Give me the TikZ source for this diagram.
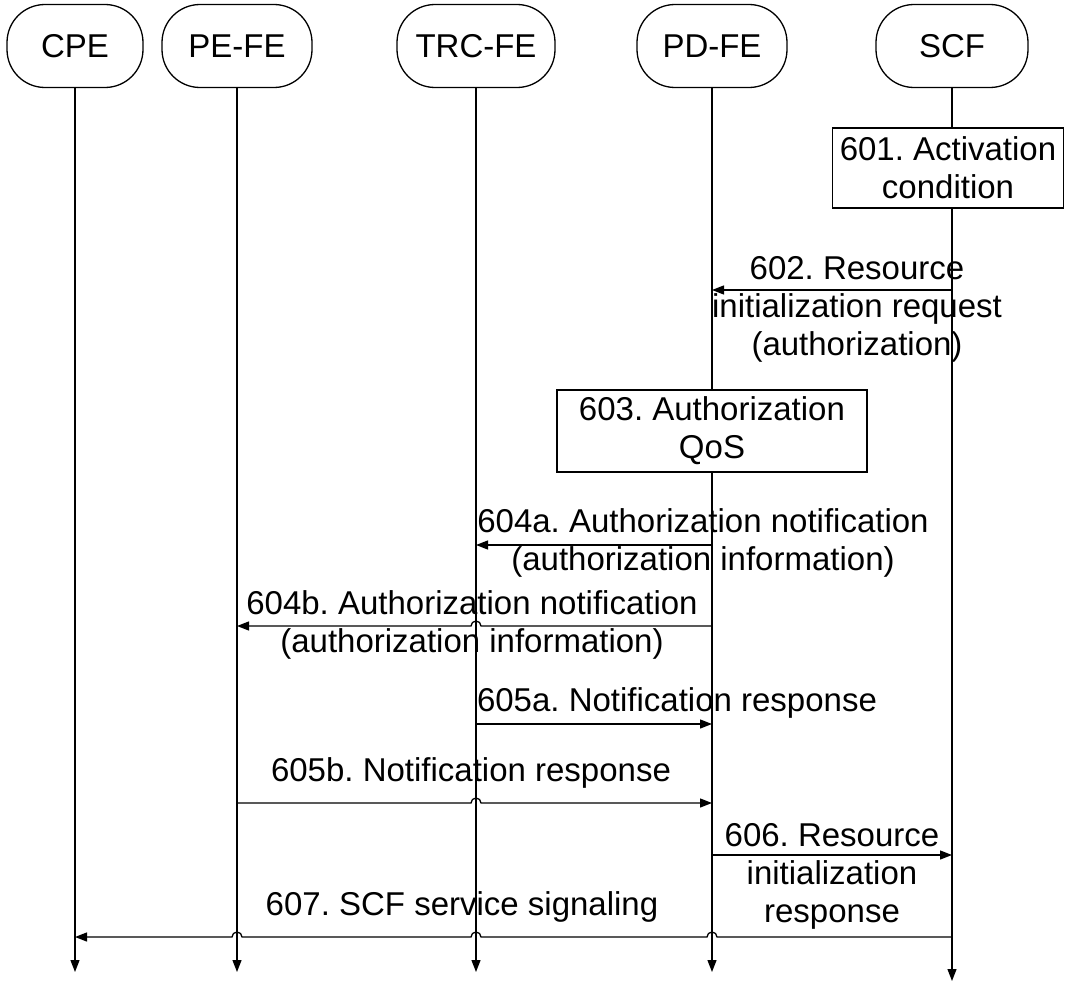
\documentclass[tikz,border=0pt]{standalone}
\usepackage{fontspec}
\setmainfont{Liberation Sans}
\usetikzlibrary{arrows.meta}
\usetikzlibrary{calc}
\frenchspacing

\begin{document}
\begin{tikzpicture}[x=1pt, y=-1pt,
    every node/.style={font=\fontsize{33}{38}\selectfont},
    head/.style={draw, line width=1.3pt, rounded corners=38pt, minimum width=150pt, minimum height=83pt},
    action/.style={draw, line width=1.3pt, fill=white, align=center, inner sep=0pt},
    msg/.style={-{Triangle[length=12pt, width=9pt]}, line width=1.3pt},
    lbl/.style={align=center, inner sep=0pt},
]
\useasboundingbox (0,0) rectangle (1072,982);

\node[head, minimum width=136pt] (cpe) at (75,46) {CPE};
\node[head] (pefe) at (237,46) {PE-FE};
\node[head, minimum width=158pt] (trcfe) at (476,46) {TRC-FE};
\node[head] (pdfe) at (712,46) {PD-FE};
\node[head, minimum width=152pt] (scf) at (952,46) {SCF};

\coordinate (lifeend) at (0,972);
\coordinate (scfend) at (0,981);
\draw[msg] (cpe.south) -- (cpe.south |- lifeend);
\draw[msg] (pefe.south) -- (pefe.south |- lifeend);
\draw[msg] (trcfe.south) -- (trcfe.south |- lifeend);
\draw[msg] (pdfe.south) -- (pdfe.south |- lifeend);
\draw[msg] (scf.south) -- (scf.south |- scfend);

\node[action, minimum width=231pt, minimum height=80pt] (act601) at (948,168) {601. Activation\\condition};
\node[action, minimum width=310pt, minimum height=82pt] (qos603) at (712,431) {603. Authorization\\QoS};

\coordinate (y602) at (0,290);
\coordinate (y604a) at (0,545);
\coordinate (y604b) at (0,626);
\coordinate (y605a) at (0,724);
\coordinate (y605b) at (0,803);
\coordinate (y606) at (0,855);
\coordinate (y607) at (0,937);

\draw[msg] (scf |- y602) -- (pdfe |- y602);
\node[lbl] (l602) at (857,309) {602. Resource\\initialization request\\(authorization)};

\draw[msg] (pdfe |- y604a) -- (trcfe |- y604a);
\node[lbl] (l604a) at (703,543) {604a. Authorization notification\\(authorization information)};

\draw[msg] (pdfe |- y604b) -- ($(trcfe |- y604b)+(5,0)$) arc[start angle=0, end angle=180, radius=5pt] -- (pefe |- y604b);
\node[lbl] (l604b) at (472,625) {604b. Authorization notification\\(authorization information)};

\draw[msg] (trcfe |- y605a) -- (pdfe |- y605a);
\node[lbl] (l605a) at (677,703) {605a. Notification response};

\draw[msg] (pefe |- y605b) -- ($(trcfe |- y605b)+(-5,0)$) arc[start angle=180, end angle=0, radius=5pt] -- (pdfe |- y605b);
\node[lbl] (l605b) at (471,773) {605b. Notification response};

\draw[msg] (pdfe |- y606) -- (scf |- y606);
\node[lbl] (l606) at (832,876) {606. Resource\\initialization\\response};

\draw[msg] (scf |- y607) -- ($(pdfe |- y607)+(5,0)$) arc[start angle=0, end angle=180, radius=5pt]
  -- ($(trcfe |- y607)+(5,0)$) arc[start angle=0, end angle=180, radius=5pt]
  -- ($(pefe |- y607)+(5,0)$) arc[start angle=0, end angle=180, radius=5pt] -- (cpe |- y607);
\node[lbl] (l607) at (462,907) {607. SCF service signaling};
\end{tikzpicture}
\end{document}
